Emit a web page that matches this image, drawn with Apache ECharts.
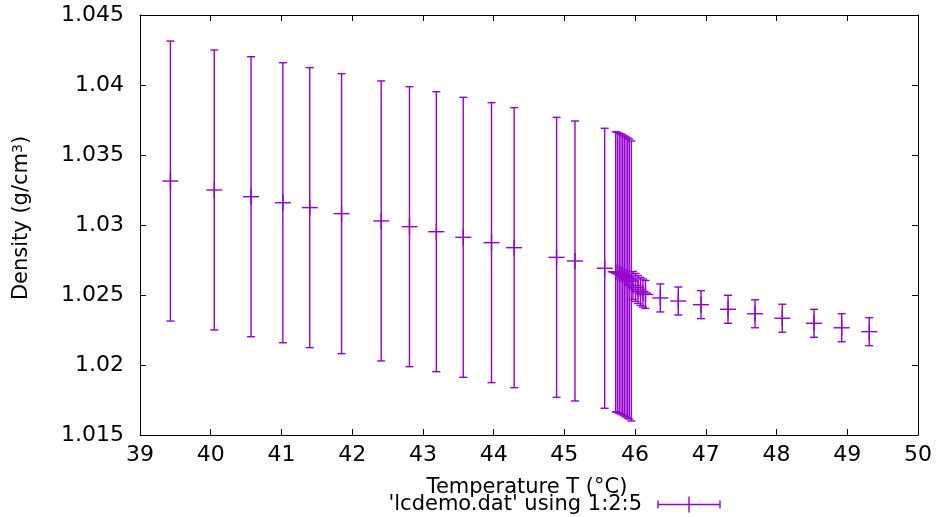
<!DOCTYPE html>
<html>
<head>
<meta charset="utf-8">
<script src="https://cdn.jsdelivr.net/npm/echarts@6/dist/echarts.min.js"></script>
<style>
html,body{margin:0;padding:0;background:#ffffff;}
#chart{width:936px;height:517px;}
</style>
</head>
<body>
<div id="chart"></div>
<script>
// Temperature T (°C)
const temperature = [
  39.43, 40.05, 40.57, 41.02, 41.40, 41.85, 42.41, 42.81, 43.19, 43.57,
  43.97, 44.29, 44.89, 45.15, 45.57,
  45.726, 45.751, 45.777, 45.801, 45.825, 45.848, 45.872, 45.896, 45.918, 45.946,
  45.970, 46.006, 46.041, 46.077, 46.112, 46.147,
  46.357, 46.611, 46.932, 47.314, 47.696, 48.081, 48.530, 48.921, 49.311
];
// Density (g/cm^3)
const density = [
  1.03314, 1.03250, 1.03202, 1.03159, 1.03124, 1.03081, 1.03029, 1.02988, 1.02952, 1.02912,
  1.02874, 1.02838, 1.02769, 1.02743, 1.02691,
  1.02666, 1.02661, 1.02655, 1.02650, 1.02643, 1.02636, 1.02629, 1.02621, 1.02614, 1.02600,
  1.02568, 1.02554, 1.02539, 1.02525, 1.02514, 1.02504,
  1.02479, 1.02457, 1.02431, 1.02398, 1.02366, 1.02334, 1.02298, 1.02266, 1.02238
];
// Error (column 5)
const densityError = [
  0.010, 0.010, 0.010, 0.010, 0.010, 0.010, 0.010, 0.010, 0.010, 0.010,
  0.010, 0.010, 0.010, 0.010, 0.010,
  0.010, 0.010, 0.010, 0.010, 0.010, 0.010, 0.010, 0.010, 0.010, 0.010,
  0.001, 0.001, 0.001, 0.001, 0.001, 0.001,
  0.001, 0.001, 0.001, 0.001, 0.001, 0.001, 0.001, 0.001, 0.001
];
const xTicks = [39, 40, 41, 42, 43, 44, 45, 46, 47, 48, 49, 50];
const yTickLabels = ['1.015', '1.02', '1.025', '1.03', '1.035', '1.04', '1.045'];

const seriesName = "'lcdemo.dat' using 1:2:5";
const xTitle = 'Temperature T (°C)';
const FONT = 'DejaVu Sans';
const FS = 21;
const TICK_FS = 22;
const COLOR = '#9400d3';

const chart = echarts.init(document.getElementById('chart'), null, {renderer: 'canvas'});

function renderItem(params, api) {
  const x = api.value(0), y = api.value(1), e = api.value(2);
  const c = api.coord([x, y]);
  const t = api.coord([x, y + e]);
  const b = api.coord([x, y - e]);
  const cap = 4, ps = 8;
  const st = {stroke: COLOR, lineWidth: 1.4, fill: null};
  const ln = (x1, y1, x2, y2) => ({type: 'line', shape: {x1, y1, x2, y2}, style: st});
  return {
    type: 'group',
    children: [
      ln(t[0], t[1], b[0], b[1]),
      ln(t[0] - cap, t[1], t[0] + cap, t[1]),
      ln(b[0] - cap, b[1], b[0] + cap, b[1]),
      ln(c[0] - ps, c[1], c[0] + ps, c[1]),
      ln(c[0], c[1] - ps, c[0], c[1] + ps)
    ]
  };
}

const xMin = xTicks[0], xMax = xTicks[xTicks.length - 1];
const yMin = parseFloat(yTickLabels[0]), yMax = parseFloat(yTickLabels[yTickLabels.length - 1]);

const axisCommon = {
  axisLine: {show: true, onZero: false, lineStyle: {color: '#000', width: 1}},
  axisTick: {show: true, inside: true, length: 6, lineStyle: {color: '#000', width: 1}},
  splitLine: {show: false}
};

const option = {
  animation: false,
  backgroundColor: '#ffffff',
  grid: {left: 140, right: 18, top: 15, bottom: 82, containLabel: false},
  xAxis: [
    Object.assign({
      type: 'value', min: xMin, max: xMax, interval: 1, position: 'bottom',
      axisLabel: {color: '#000', fontFamily: FONT, fontSize: TICK_FS, margin: 9,
        formatter: v => String(v)}
    }, axisCommon),
    Object.assign({
      type: 'value', min: xMin, max: xMax, interval: 1, position: 'top',
      axisLabel: {show: false}
    }, axisCommon)
  ],
  yAxis: [
    Object.assign({
      type: 'value', min: yMin, max: yMax, interval: 0.005, position: 'left',
      axisLabel: {color: '#000', fontFamily: FONT, fontSize: TICK_FS, margin: 16,
        formatter: v => String(parseFloat(v.toFixed(3)))}
    }, axisCommon),
    Object.assign({
      type: 'value', min: yMin, max: yMax, interval: 0.005, position: 'right',
      axisLabel: {show: false}
    }, axisCommon)
  ],
  series: [{
    name: seriesName,
    type: 'custom',
    xAxisIndex: 0,
    yAxisIndex: 0,
    renderItem: renderItem,
    encode: {x: 0, y: 1},
    data: temperature.map((t, i) => [t, density[i], densityError[i]])
  }],
  graphic: [
    {
      type: 'text',
      x: 527, y: 488,
      style: {text: xTitle, font: FS + 'px ' + FONT, fill: '#000', textAlign: 'center', textVerticalAlign: 'middle'},
      silent: true
    },
    {
      type: 'text',
      x: 22, y: 218, rotation: Math.PI / 2,
      style: {
        text: 'Density (g/cm{sup|3})',
        font: FS + 'px ' + FONT, fill: '#000',
        textAlign: 'center', textVerticalAlign: 'middle',
        rich: {sup: {fontSize: 14, fontFamily: FONT, verticalAlign: 'top', fill: '#000'}}
      },
      silent: true
    },
    {
      type: 'text',
      x: 642, y: 505,
      style: {text: seriesName, font: FS + 'px ' + FONT, fill: '#000', textAlign: 'right', textVerticalAlign: 'middle'},
      silent: true
    },
    {
      type: 'group', x: 0, y: 0, silent: true,
      children: [
        {type: 'line', shape: {x1: 658, y1: 504.5, x2: 720, y2: 504.5}, style: {stroke: COLOR, lineWidth: 1.4}},
        {type: 'line', shape: {x1: 658, y1: 500.5, x2: 658, y2: 508.5}, style: {stroke: COLOR, lineWidth: 1.4}},
        {type: 'line', shape: {x1: 720, y1: 500.5, x2: 720, y2: 508.5}, style: {stroke: COLOR, lineWidth: 1.4}},
        {type: 'line', shape: {x1: 689, y1: 496.5, x2: 689, y2: 512.5}, style: {stroke: COLOR, lineWidth: 1.4}}
      ]
    }
  ]
};

chart.setOption(option);
</script>
</body>
</html>
